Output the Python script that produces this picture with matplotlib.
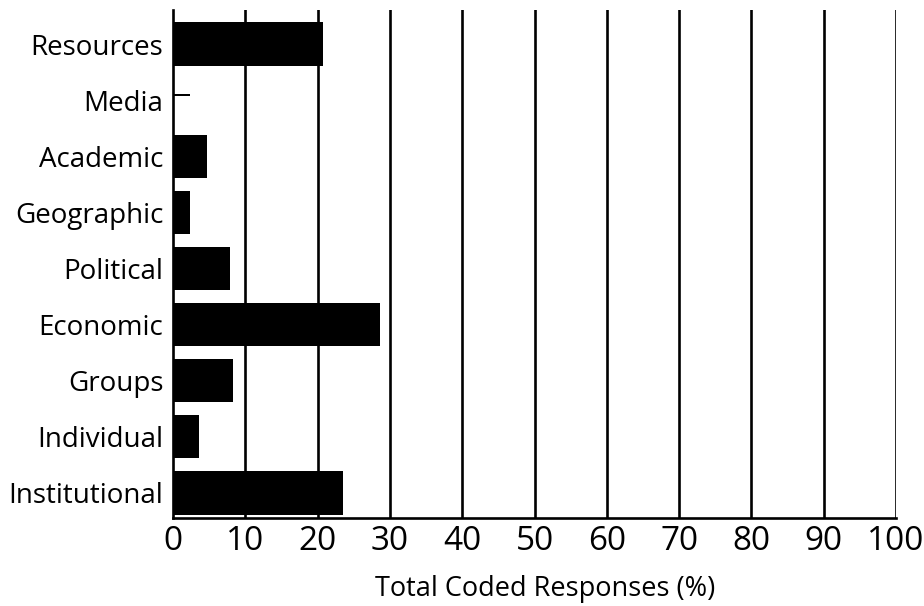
import matplotlib
matplotlib.use("Agg")
import matplotlib.pyplot as plt

categories = ["Resources", "Media", "Academic", "Geographic", "Political",
              "Economic", "Groups", "Individual", "Institutional"]
values = [20.7, 2.3, 4.7, 2.35, 7.9, 28.6, 8.35, 3.6, 23.5]
xticks = [0, 10, 20, 30, 40, 50, 60, 70, 80, 90, 100]
xlabel = "Total Coded Responses (%)"

plt.rcParams['font.family'] = ['Open Sans', 'DejaVu Sans']

fig = plt.figure(figsize=(9.24, 6.06), dpi=100)
ax = fig.add_axes([173/924, 1-518/606, (896-173)/924, (518-10)/606])

ypos = list(range(len(categories)))
heights = [0.05 if c == "Media" else 0.77 for c in categories]
offsets = [-0.09 if c == "Media" else 0.0 for c in categories]
ax.barh([p + o for p, o in zip(ypos, offsets)], values, height=heights,
        color="black", zorder=3)

for x in xticks[1:]:
    ax.axvline(x, color="black", lw=1.9, zorder=2)

ax.set_xlim(0, 100)
ax.set_ylim(8.446, -0.606)
ax.set_yticks(ypos)
ax.set_yticklabels(categories, fontsize=20)
ax.set_xticks(xticks)
ax.set_xticklabels([str(t) for t in xticks], fontsize=24)
ax.tick_params(axis='both', length=0)
ax.tick_params(axis='y', pad=7)
ax.tick_params(axis='x', pad=5)
ax.set_xlabel(xlabel, fontsize=19.5)
ax.xaxis.set_label_coords(0.5145, -0.113)

for s in ["top", "right"]:
    ax.spines[s].set_visible(False)
for s in ["left", "bottom"]:
    ax.spines[s].set_linewidth(1.9)

fig.savefig("out.png", dpi=100)
